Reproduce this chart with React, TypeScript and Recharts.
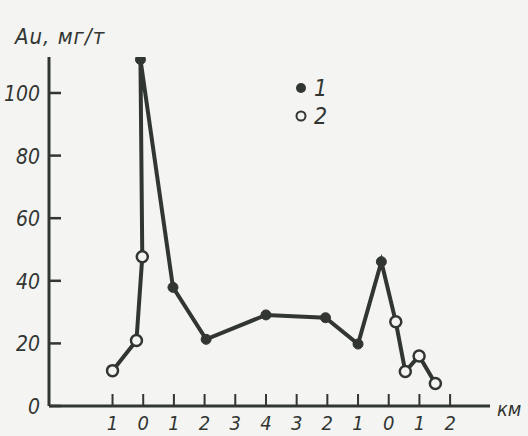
import React from 'react'
import { LineChart, Line, XAxis, YAxis } from 'recharts'

// distance along profile, in tick units (tick i = i-th label)
const xPos = [0, 0.78, 0.97, 0.91, 1.97, 3.05, 5.0, 6.94, 8.0, 8.76, 9.23, 9.54, 9.99, 10.52]
const auValues = [11.3, 20.9, 47.7, 110.7, 37.9, 21.3, 29.1, 28.2, 19.8, 46.1, 26.9, 11, 16, 7.2]
// 1 = filled dot, 2 = open dot
const sampleKind = [2, 2, 2, 1, 1, 1, 1, 1, 1, 1, 2, 2, 2, 2]

const xTickLabels = ['1', '0', '1', '2', '3', '4', '3', '2', '1', '0', '1', '2']
const yTicks = [0, 20, 40, 60, 80, 100]
const legendItems = [
  { kind: 1, label: '1' },
  { kind: 2, label: '2' },
]

const INK = '#323632'
const BG = '#f4f4f2'
const FONT = '"DejaVu Sans Condensed", "DejaVu Sans", sans-serif'

const data = xPos.map((x, i) => ({ x, au: auValues[i], kind: sampleKind[i] }))

const textStyle: React.CSSProperties = { fontStretch: 'condensed' }

function YTick(props: any) {
  const { x, y, payload } = props
  return (
    <g>
      <line x1={x} y1={y} x2={x + 12} y2={y} stroke={INK} strokeWidth={2.5} />
      <text x={x - 9} y={y + 8} textAnchor="end" fill={INK} fontSize={21} style={textStyle}
        fontStyle="italic" fontFamily={FONT}>{payload.value}</text>
    </g>
  )
}

function XTick(props: any) {
  const { x, y, payload } = props
  return (
    <g>
      <line x1={x} y1={y} x2={x} y2={y - 12} stroke={INK} strokeWidth={2} />
      <text x={x} y={y + 24} textAnchor="middle" fill={INK} fontSize={20} style={textStyle}
        fontStyle="italic" fontFamily={FONT}>{xTickLabels[payload.value]}</text>
    </g>
  )
}

function SampleDot(props: any) {
  const { cx, cy, payload, index } = props
  if (payload.kind === 1) {
    return <circle key={index} cx={cx} cy={cy} r={5} fill={INK} stroke={INK} strokeWidth={1} />
  }
  return <circle key={index} cx={cx} cy={cy} r={5.5} fill={BG} stroke={INK} strokeWidth={2.5} />
}

export default function App() {
  const label: React.CSSProperties = {
    position: 'absolute', fontFamily: FONT, fontStyle: 'italic', fontStretch: 'condensed',
    color: INK, whiteSpace: 'nowrap',
  }
  return (
    <div style={{ position: 'absolute', left: 0, top: 0, width: 528, height: 436, background: BG }}>
      <LineChart width={528} height={436} data={data}
        margin={{ top: 57, right: 38, bottom: 0, left: 9 }}>
        <XAxis dataKey="x" type="number" domain={[-2.07, 12.3]} allowDataOverflow
          ticks={xTickLabels.map((_, i) => i)} interval={0}
          tickSize={0} tickMargin={0} height={30}
          axisLine={{ stroke: INK, strokeWidth: 3 }} tickLine={false} tick={<XTick />} />
        <YAxis type="number" domain={[0, 111.5]} allowDataOverflow ticks={yTicks}
          tickSize={0} tickMargin={0} width={40}
          axisLine={{ stroke: INK, strokeWidth: 3 }} tickLine={false} tick={<YTick />} />
        <Line dataKey="au" type="linear" stroke={INK} strokeWidth={4}
          dot={<SampleDot />} activeDot={false} isAnimationActive={false} />
      </LineChart>
      <div style={{ ...label, left: 294, top: 74, fontSize: 23 }}>
        {legendItems.map((it) => (
          <div key={it.label} style={{ display: 'flex', alignItems: 'center', height: 28 }}>
            <svg width={14} height={14} style={{ marginRight: 6 }}>
              {it.kind === 1
                ? <circle cx={7} cy={7} r={5} fill={INK} />
                : <circle cx={7} cy={7} r={4.5} fill={BG} stroke={INK} strokeWidth={2} />}
            </svg>
            <span>{it.label}</span>
          </div>
        ))}
      </div>
      <div style={{ ...label, left: 15, top: 24, fontSize: 22, letterSpacing: 1 }}>Au, мг/т</div>
      <div style={{ ...label, left: 497, top: 397, fontSize: 20 }}>км</div>
    </div>
  )
}
